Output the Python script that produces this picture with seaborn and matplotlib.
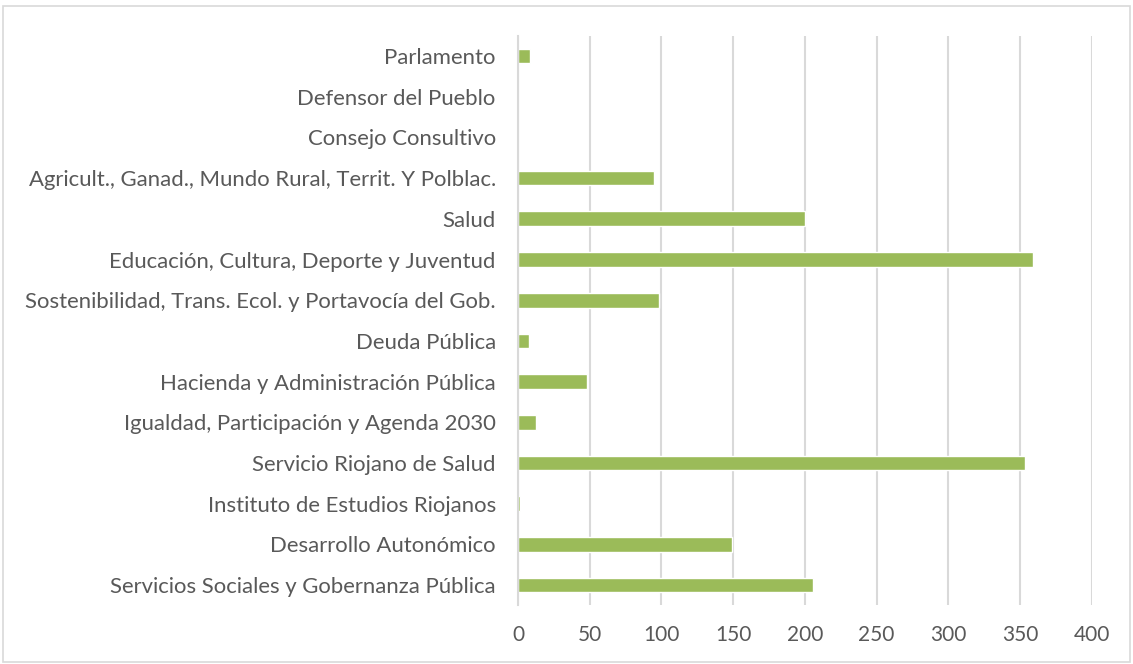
import pandas as pd
import matplotlib.pyplot as plt
import seaborn as sns
from matplotlib.patches import Rectangle

categorias = [
    "Parlamento",
    "Defensor del Pueblo",
    "Consejo Consultivo",
    "Agricult., Ganad., Mundo Rural, Territ. Y Polblac.",
    "Salud",
    "Educación, Cultura, Deporte y Juventud",
    "Sostenibilidad, Trans. Ecol. y Portavocía del Gob.",
    "Deuda Pública",
    "Hacienda y Administración Pública",
    "Igualdad, Participación y Agenda 2030",
    "Servicio Riojano de Salud",
    "Instituto de Estudios Riojanos",
    "Desarrollo Autonómico",
    "Servicios Sociales y Gobernanza Pública",
]
valores = [8.4, 0, 0, 94.6, 200, 359, 98.5, 7.4, 48.3, 12.3, 353.3, 1.2, 149, 205.5]
ticks_x = [0, 50, 100, 150, 200, 250, 300, 350, 400]

df = pd.DataFrame({"Seccion": categorias, "Importe": valores})

sns.set_theme(style="white")
plt.rcParams["font.family"] = ["Lato", "DejaVu Sans"]

fig = plt.figure(figsize=(11.33, 6.64), dpi=100)
ax = fig.add_axes([0.4572, 0.0883, 0.5063, 0.8579])

sns.barplot(data=df, x="Importe", y="Seccion", orient="h", color="#9bbb59",
            saturation=1, width=0.36, ax=ax)

ax.set_xlim(0, 400)
ax.set_xticks(ticks_x)
ax.xaxis.grid(True, color="#d9d9d9", linewidth=1.5)
ax.set_axisbelow(True)
for s in ["top", "right", "bottom"]:
    ax.spines[s].set_visible(False)
ax.spines["left"].set_color("#d9d9d9")
ax.spines["left"].set_linewidth(1.5)
ax.set_xlabel("")
ax.set_ylabel("")
ax.tick_params(axis="y", length=0, labelsize=15.9, labelcolor="#595959", pad=16)
ax.tick_params(axis="x", length=0, labelsize=15, labelcolor="#595959", pad=14)

# marco del gráfico
fig.patches.append(Rectangle((0.003, 0.003), 0.994, 0.988, transform=fig.transFigure,
                             fill=False, edgecolor="#d9d9d9", linewidth=1.2))

fig.savefig("out.png", dpi=100)
